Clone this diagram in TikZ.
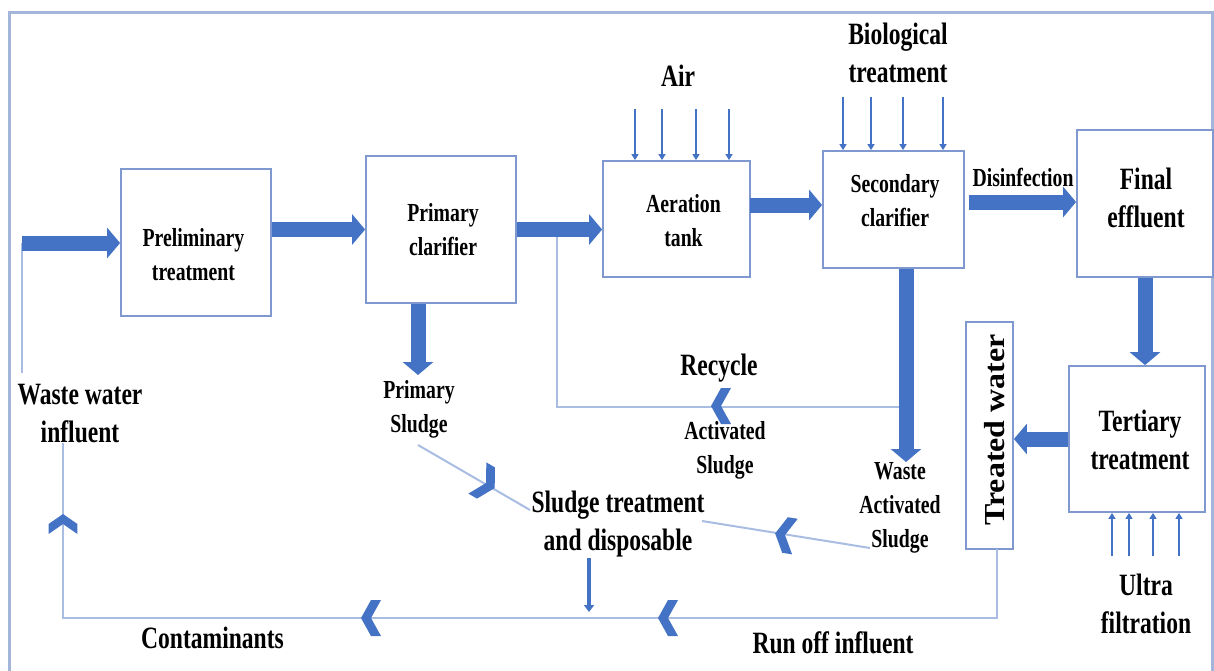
\documentclass[tikz,border=0pt]{standalone}
\usepackage{fontspec}
\setmainfont{Liberation Serif}
\newfontfamily\labfont[FakeStretch=0.76]{Liberation Serif}
\newfontfamily\twfont[FakeStretch=1.1]{Liberation Serif}
\usetikzlibrary{arrows.meta,calc}

\definecolor{flow}{HTML}{4472C4}
\definecolor{edgeblue}{HTML}{7F98CF}
\definecolor{thinblue}{HTML}{A9BDE3}
\definecolor{frameblue}{HTML}{A3B6DA}

\tikzset{
  box/.style={draw=edgeblue, line width=1.8pt, fill=white, inner sep=0pt},
  small/.style={font=\labfont\bfseries\fontsize{26}{34}\selectfont, align=center, inner sep=0pt},
  large/.style={font=\labfont\bfseries\fontsize{31}{38}\selectfont, align=center, inner sep=0pt},
  bigflow/.style={draw=flow, line width=15pt, -{Triangle[length=13pt,width=30pt]}},
  smallflow/.style={draw=flow, line width=2.5pt, -{Triangle[length=6pt,width=7pt]}},
  thinline/.style={draw=thinblue, line width=2pt},
  chev/.pic={\fill[flow] (-10,-18) -- (0,-18) -- (10,0) -- (0,18) -- (-10,18) -- (0,0) -- cycle;}
}

\begin{document}
\begin{tikzpicture}[x=1pt,y=-1pt]
\useasboundingbox (0,0) rectangle (1214,670);
\clip (0,0) rectangle (1214,670);
\fill[white] (0,0) rectangle (1214,670);

% outer frame
\draw[frameblue, line width=3pt] (9,12) rectangle (1212,700);

% process boxes
\node[box, minimum width=150pt, minimum height=147pt] (pre) at (196,242.5) {};
\node[box, minimum width=150pt, minimum height=147pt] (pri) at (441,229.5) {};
\node[box, minimum width=147pt, minimum height=116pt] (aer) at (676.5,219) {};
\node[box, minimum width=141pt, minimum height=117pt] (sec) at (893.5,209.5) {};
\node[box, minimum width=136pt, minimum height=147pt] (fin) at (1145,203.5) {};
\node[box, minimum width=136pt, minimum height=146pt] (ter) at (1137,439) {};
\node[box, minimum width=47pt, minimum height=227pt] (tw) at (989.5,435.5) {};

% box labels
\node[small] (preT) at (193.5,254.5) {Preliminary\\treatment};
\node[small] (priT) at (443,230) {Primary\\clarifier};
\node[small] (aerT) at (683.5,220.5) {Aeration\\tank};
\node[small] (secT) at (895,200.5) {Secondary\\clarifier};
\node[large] (finT) at (1146,198) {Final\\effluent};
\node[large] (terT) at (1140,440) {Tertiary\\treatment};
\node[rotate=90, inner sep=0pt, font=\twfont\bfseries\fontsize{29}{29}\selectfont] (twT) at (995,430) {Treated water};

% free labels
\node[large] (airT) at (678,76) {Air};
\node[large] (bioT) at (898,52.5) {Biological\\treatment};
\node[small] (disT) at (1023,177) {Disinfection};
\node[large] (wwT) at (80,414) {Waste water\\influent};
\node[small] (psT) at (419,409.5) {Primary\\Sludge};
\node[large] (rcT) at (719,368) {Recycle};
\node[small] (asT) at (725,450) {Activated\\Sludge};
\node[large] (stT) at (618,524) {Sludge treatment\\and disposable};
\node[small] (wasT) at (900,508) {Waste\\Activated\\Sludge};
\node[large] (ufT) at (1146,604) {Ultra\\filtration};
\node[large] (conT) at (212.5,638) {Contaminants};
\node[large] (roT) at (833,643) {Run off influent};

% junction points
\coordinate (in) at (22,243);
\coordinate (inlo) at (22,373);
\coordinate (a2s) at (750,205);
\coordinate (s2f) at (969,202);
\coordinate (psd) at (418,375);
\coordinate (wsd) at (906,462);
\coordinate (rc0) at (557,230);
\coordinate (rc1) at (906,407);
\coordinate (twb) at (997,549);
\coordinate (ll) at (63,618);
\coordinate (wwi) at (63,443);
\coordinate (ps0) at (418,445);
\coordinate (ps1) at (530,510);
\coordinate (wa0) at (870,548);
\coordinate (wa1) at (702,521);
\coordinate (sd0) at (589,558);
\coordinate (sd1) at (589,612);

% thin return lines
\draw[thinline] (in) -- (inlo);
\draw[thinline] (rc0) |- (rc1);
\draw[thinline] (twb) |- (ll) -- (wwi);
\draw[thinline] (ps0) -- (ps1);
\draw[thinline] (wa0) -- (wa1);

% main flow
\draw[bigflow] (in) -- (in -| pre.west);
\draw[bigflow] (pre.east |- pri.west) -- (pri.west);
\draw[bigflow] (pri.east) -- (pri.east -| aer.west);
\draw[bigflow] (a2s) -- (a2s -| sec.west);
\draw[bigflow] (s2f) -- (s2f -| fin.west);
\draw[bigflow] (psd |- pri.south) -- (psd);
\draw[bigflow] (wsd |- sec.south) -- (wsd);
\draw[bigflow] (fin.south) -- (fin.south |- ter.north);
\draw[bigflow] (ter.west) -- (ter.west -| tw.east);

% air, biological treatment and ultra filtration inputs
\foreach \x in {635,662,696,729} \draw[smallflow] (\x,109) -- (aer.north -| \x,0);
\foreach \x in {843,871,903,943} \draw[smallflow] (\x,97) -- (sec.north -| \x,0);
\foreach \x in {1112,1129,1153,1179} \draw[smallflow] (\x,556) -- (ter.south -| \x,0);

% sludge to disposal
\draw[draw=flow, line width=4pt, -{Triangle[length=7pt,width=10pt]}] (sd0) -- (sd1);

% direction chevrons on return lines
\pic[rotate=90, yscale=0.8] at (63,524) {chev};
\pic[rotate=180] at (371,618) {chev};
\pic[rotate=180] at (668,618) {chev};
\pic[rotate=180] at (721,406) {chev};
\pic[rotate=-30] at (486,483) {chev};
\pic[rotate=171] at (785,535) {chev};
\end{tikzpicture}
\end{document}
